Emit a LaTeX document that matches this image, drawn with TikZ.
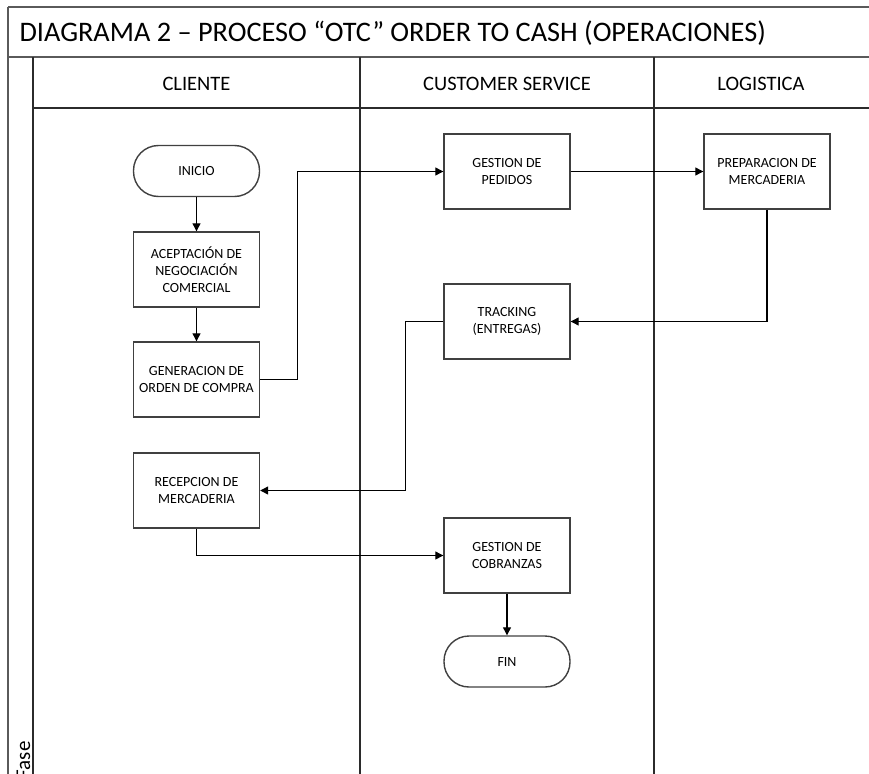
\documentclass[tikz,border=0pt]{standalone}
\usepackage{fontspec}
\setmainfont{Carlito}
\usetikzlibrary{arrows.meta}

\definecolor{framegray}{HTML}{5A5A5A}
\definecolor{lanegray}{HTML}{2B2B2B}
\definecolor{boxgray}{HTML}{404040}

\begin{document}
\begin{tikzpicture}[x=1pt,y=-1pt,
  frame/.style={draw=framegray, line width=1.8pt},
  lane/.style={draw=lanegray, line width=1.4pt},
  proc/.style={draw=boxgray, line width=1.4pt, rectangle, minimum width=126pt,
    minimum height=75pt, inner sep=0pt, align=center,
    font=\fontsize{14}{17}\selectfont},
  term/.style={proc, minimum height=51pt, rounded corners=25pt},
  flow/.style={draw=black, line width=1.2pt, -{Triangle[length=8pt,width=8pt]}},
  lanehead/.style={font=\fontsize{20.5}{24}\selectfont}]
\useasboundingbox (0,0) rectangle (869,773);
\clip (0,0) rectangle (869,773);

% pool frame and title bar
\draw[frame] (8,7) -- (880,7);
\draw[frame] (8,7) -- (8,780);
\draw[frame] (8,57) -- (880,57);
\node[anchor=base west, font=\fontsize{28.3}{33}\selectfont] (title) at (16,42)
  {DIAGRAMA 2 – PROCESO “OTC” ORDER TO CASH (OPERACIONES)};

% lanes
\draw[lane] (33,57) -- (33,780);
\draw[lane] (33,108) -- (880,108);
\draw[lane] (360,57) -- (360,780);
\draw[lane] (654,57) -- (654,780);
\node[lanehead] (hcli) at (196.5,84) {CLIENTE};
\node[lanehead] (hcs) at (507,84) {CUSTOMER SERVICE};
\node[lanehead] (hlog) at (761,84) {LOGISTICA};
\node[rotate=90, anchor=base east, font=\fontsize{21}{25}\selectfont] (fase) at (30,738) {Fase};

% steps
\node[term] (inicio) at (196.5,171) {INICIO};
\node[proc] (acep) at (196.5,269.5) {ACEPTACIÓN DE\\NEGOCIACIÓN\\COMERCIAL};
\node[proc] (gen) at (196.5,379.5) {GENERACION DE\\ORDEN DE COMPRA};
\node[proc] (recep) at (196.5,490.5) {RECEPCION DE\\MERCADERIA};
\node[proc] (ped) at (507,171.5) {GESTION DE\\PEDIDOS};
\node[proc] (track) at (507,321.5) {TRACKING\\(ENTREGAS)};
\node[proc] (prep) at (767,171.5) {PREPARACION DE\\MERCADERIA};
\node[proc] (cob) at (507,555.5) {GESTION DE\\COBRANZAS};
\node[term] (fin) at (507,661.5) {FIN};

% flow
\draw[flow] (inicio) -- (acep);
\draw[flow] (acep) -- (gen);
\draw[flow] (gen.east) -- ([xshift=37pt]gen.east) |- (ped.west);
\draw[flow] (ped) -- (prep);
\draw[flow] (prep.south) |- (track.east);
\draw[flow] (track.west) -- ([xshift=-38pt]track.west) |- (recep.east);
\draw[flow] (recep.south) |- (cob.west);
\draw[flow] (cob) -- (fin);
\end{tikzpicture}
\end{document}
